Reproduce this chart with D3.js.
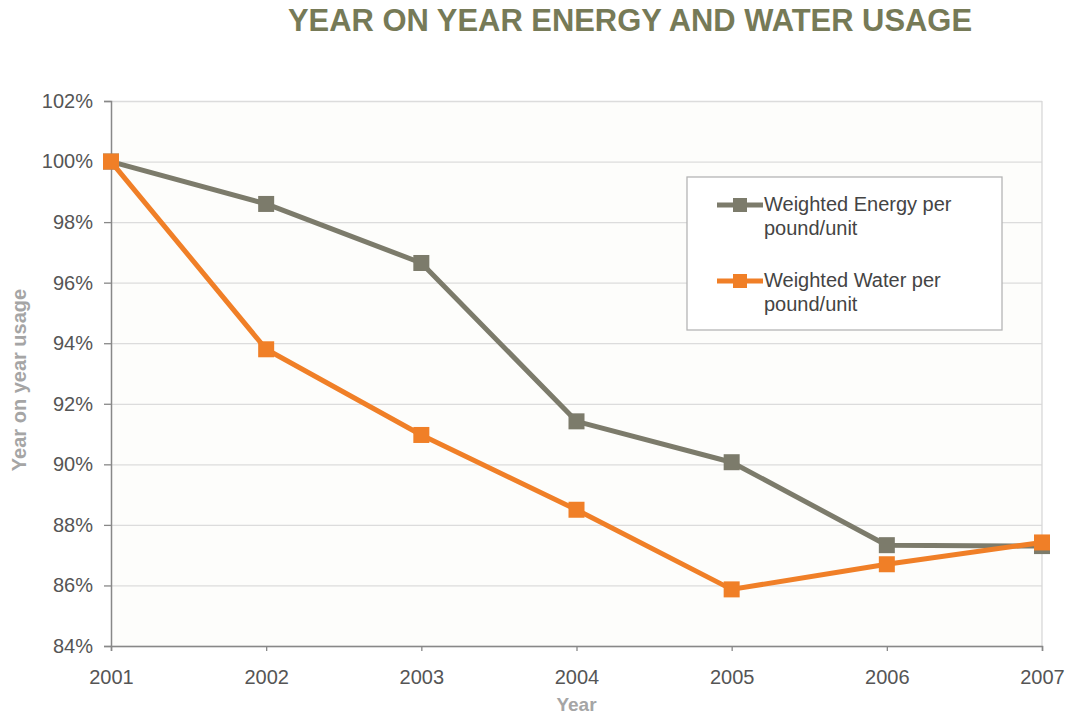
<!DOCTYPE html>
<html>
<head>
<meta charset="utf-8">
<script src="https://cdn.jsdelivr.net/npm/d3@7"></script>
<style>
    body { margin: 0; background: #fff; }
    svg { display: block; font-family: "Liberation Sans", Arial, sans-serif; }
</style>
</head>
<body>
<div id="chart"></div>
<script>
(function () {
    const years = [2001, 2002, 2003, 2004, 2005, 2006, 2007];
    const energy = [100, 98.6, 96.65, 91.42, 90.07, 87.33, 87.3];
    const water = [100, 93.8, 90.97, 88.5, 85.87, 86.7, 87.42];
    const yTicks = [84, 86, 88, 90, 92, 94, 96, 98, 100, 102];
    const seriesNames = ["Weighted Energy per|pound/unit", "Weighted Water per|pound/unit"];
    const colors = ["#7c7b6b", "#f07f27"];

    const width = 1066, height = 714;
    const margin = { top: 101, right: 24, bottom: 68, left: 111 };
    const c = {
        width: width - margin.left - margin.right,
        height: height - margin.top - margin.bottom
    };

    const svg = d3.select("#chart").append("svg")
        .attr("width", width)
        .attr("height", height);

    svg.append("rect").attr("width", width).attr("height", height).attr("fill", "#fff");

    // title
    svg.append("text")
        .attr("x", 288).attr("y", 31)
        .attr("textLength", 684)
        .attr("lengthAdjust", "spacingAndGlyphs")
        .attr("font-size", 32)
        .attr("font-weight", "bold")
        .attr("fill", "#767a57")
        .text("YEAR ON YEAR ENERGY AND WATER USAGE");

    const g = svg.append("g").attr("transform", "translate(" + margin.left + "," + margin.top + ")");

    const x = d3.scaleLinear().domain([2001, 2007]).range([0, c.width]);
    const y = d3.scaleLinear().domain([84, 102]).range([c.height, 0]);

    // plot background
    g.append("rect").attr("width", c.width).attr("height", c.height).attr("fill", "#fdfdfb");

    // grid
    g.append("g").attr("class", "grid")
        .call(d3.axisLeft(y).tickValues(yTicks).tickFormat("").tickSize(-c.width))
        .call(s => s.select(".domain").remove())
        .selectAll("line").attr("stroke", "#dcdcdc").attr("stroke-width", 1.3);

    // right border
    g.append("line").attr("x1", c.width).attr("x2", c.width).attr("y1", 0).attr("y2", c.height)
        .attr("stroke", "#d8d8d8").attr("stroke-width", 1.3);

    // y axis
    const yAxis = g.append("g")
        .call(d3.axisLeft(y).tickValues(yTicks).tickSize(7).tickPadding(11).tickFormat(d => d + "%"));
    yAxis.select(".domain").attr("stroke", "#888").attr("stroke-width", 1.5);
    yAxis.selectAll(".tick line").attr("stroke", "#888").attr("stroke-width", 1.3);
    yAxis.selectAll("text").attr("font-size", 20).attr("fill", "#555");

    // x axis
    const xAxis = g.append("g")
        .attr("transform", "translate(0," + c.height + ")")
        .call(d3.axisBottom(x).tickValues(years).tickSize(5).tickPadding(19).tickFormat(d3.format("d")));
    xAxis.select(".domain").attr("stroke", "#888").attr("stroke-width", 1.5);
    xAxis.selectAll(".tick line").attr("stroke", "#888").attr("stroke-width", 1.3);
    xAxis.selectAll("text").attr("font-size", 20).attr("fill", "#555");

    // axis titles
    svg.append("text")
        .attr("transform", "translate(26,380) rotate(-90)")
        .attr("text-anchor", "middle")
        .attr("font-size", 20).attr("font-weight", "bold")
        .attr("fill", "#a5a5a5")
        .text("Year on year usage");
    svg.append("text")
        .attr("x", margin.left + x(2004)).attr("y", 711)
        .attr("text-anchor", "middle")
        .attr("font-size", 19).attr("font-weight", "bold")
        .attr("fill", "#a5a5a5")
        .text("Year");

    const line = d3.line().x((d, i) => x(years[i])).y(d => y(d));
    const msize = 16;

    [energy, water].forEach(function (vals, k) {
        g.append("path")
            .datum(vals)
            .attr("d", line)
            .attr("fill", "none")
            .attr("stroke", colors[k])
            .attr("stroke-width", 5)
            .attr("stroke-linejoin", "round");
        g.selectAll(".m" + k).data(vals).enter().append("rect")
            .attr("x", (d, i) => x(years[i]) - msize / 2)
            .attr("y", d => y(d) - msize / 2)
            .attr("width", msize).attr("height", msize)
            .attr("fill", colors[k]);
    });

    // legend
    const lg = svg.append("g").attr("transform", "translate(687,177)");
    lg.append("rect").attr("width", 315).attr("height", 153)
        .attr("fill", "#fff").attr("stroke", "#b5b5b5").attr("stroke-width", 1.3);
    const textWidths = [[208, 100], [200, 100]];
    seriesNames.forEach(function (name, k) {
        const ly = 28 + k * 76;
        lg.append("line").attr("x1", 30).attr("x2", 76).attr("y1", ly).attr("y2", ly)
            .attr("stroke", colors[k]).attr("stroke-width", 5);
        lg.append("rect").attr("x", 46).attr("y", ly - 7).attr("width", 14).attr("height", 14)
            .attr("fill", colors[k]);
        name.split("|").forEach(function (part, j) {
            lg.append("text")
                .attr("x", 77).attr("y", ly + 6 + j * 24)
                .attr("font-size", 20).attr("fill", "#444")
                .text(part);
        });
    });
})();
</script>
</body>
</html>
